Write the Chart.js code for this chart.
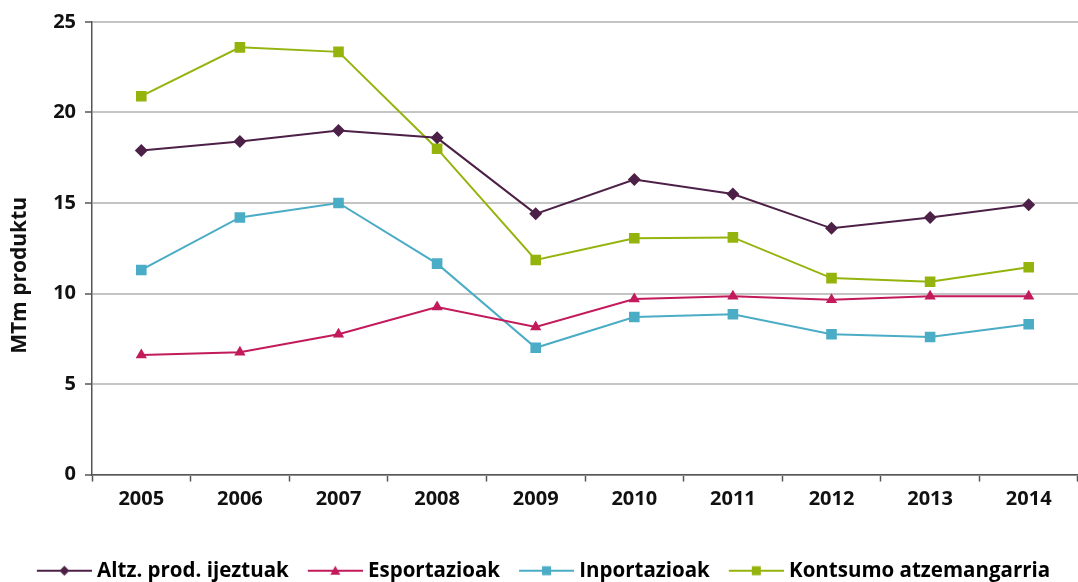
<!DOCTYPE html>
<html>
<head>
<meta charset="utf-8">
<script src="https://cdn.jsdelivr.net/npm/chart.js"></script>
<style>
  html, body { margin: 0; padding: 0; background: #fff; }
  #wrap { width: 1078px; height: 582px; }
</style>
</head>
<body>
<div id="wrap"><canvas id="myLineGraph"></canvas></div>
<script>
var years = ["2005", "2006", "2007", "2008", "2009", "2010", "2011", "2012", "2013", "2014"];
var altzProd = [17.9, 18.4, 19.0, 18.6, 14.4, 16.3, 15.5, 13.6, 14.2, 14.9];
var esportazioak = [6.6, 6.75, 7.75, 9.25, 8.15, 9.7, 9.85, 9.65, 9.85, 9.85];
var inportazioak = [11.3, 14.2, 15.0, 11.65, 7.0, 8.7, 8.85, 7.75, 7.6, 8.3];
var kontsumoa = [20.9, 23.6, 23.35, 18.0, 11.85, 13.05, 13.1, 10.85, 10.65, 11.45];
var yTicks = [0, 5, 10, 15, 20, 25];
var yTitle = "MTm produktu";

var purple = "#4d2147", pink = "#c21a5b", blue = "#4bacc6", green = "#94b40d";

// little legend pictures: a line with the marker in the middle
function legendIcon(color, style) {
  var c = document.createElement("canvas");
  c.width = 69; c.height = 14;
  var g = c.getContext("2d");
  g.strokeStyle = color; g.fillStyle = color; g.lineWidth = 2;
  g.beginPath(); g.moveTo(14, 7); g.lineTo(69, 7); g.stroke();
  var cx = 41.5, cy = 7;
  g.beginPath();
  if (style == "rectRot") {
    g.moveTo(cx, cy - 5); g.lineTo(cx + 5, cy); g.lineTo(cx, cy + 5); g.lineTo(cx - 5, cy);
  } else if (style == "triangle") {
    g.moveTo(cx, cy - 5); g.lineTo(cx + 5, cy + 4); g.lineTo(cx - 5, cy + 4);
  } else {
    g.rect(cx - 4.5, cy - 4.5, 9, 9);
  }
  g.closePath(); g.fill();
  return c;
}

function series(label, data, color, style, radius) {
  return {
    label: label,
    data: data,
    borderColor: color,
    backgroundColor: color,
    borderWidth: 2,
    pointStyle: style,
    pointRadius: radius,
    pointHoverRadius: radius,
    pointBorderWidth: 0,
    fill: false,
    tension: 0,
    icon: legendIcon(color, style)
  };
}

// the axis title sits a bit below the middle in the original
var yTitlePlugin = {
  id: "yTitle",
  afterDraw: function(chart) {
    var ctx = chart.ctx, area = chart.chartArea;
    ctx.save();
    ctx.translate(20, area.top + (area.bottom - area.top) * 0.56);
    ctx.rotate(-Math.PI / 2);
    ctx.font = "bold 21px 'Open Sans', sans-serif";
    ctx.fillStyle = "#111";
    ctx.textAlign = "center";
    ctx.textBaseline = "middle";
    ctx.fillText(yTitle, 0, 0);
    ctx.restore();
  }
};

Chart.defaults.font.family = "'Open Sans', sans-serif";
Chart.defaults.font.weight = "bold";
Chart.defaults.color = "#111";

new Chart("myLineGraph", {
  type: "line",
  plugins: [yTitlePlugin],
  data: {
    labels: years,
    datasets: [
      series("Altz. prod. ijeztuak", altzProd, purple, "rectRot", 6.5),
      series("Esportazioak", esportazioak, pink, "triangle", 6.5),
      series("Inportazioak", inportazioak, blue, "rect", 7.5),
      series("Kontsumo atzemangarria", kontsumoa, green, "rect", 7.5)
    ]
  },
  options: {
    responsive: true,
    maintainAspectRatio: false,
    animation: false,
    layout: { autoPadding: false, padding: { top: 0, right: 0, left: 0, bottom: -9 } },
    plugins: {
      tooltip: { enabled: false },
      legend: {
        display: true,
        position: "bottom",
        labels: {
          usePointStyle: true,
          pointStyleWidth: 59,
          padding: 10,
          font: { size: 20.5, weight: "bold" },
          color: "#111",
          generateLabels: function(chart) {
            return chart.data.datasets.map(function(ds, i) {
              return { text: ds.label, pointStyle: ds.icon, fillStyle: ds.borderColor, strokeStyle: ds.borderColor, lineWidth: 0, datasetIndex: i, hidden: false };
            });
          }
        }
      }
    },
    scales: {
      x: {
        offset: true,
        afterFit: function(s) { s.height = 76; s.paddingLeft = 0; s.paddingRight = 0; },
        grid: { offset: true, drawOnChartArea: false, drawTicks: true, tickLength: 7, tickColor: "#555", tickWidth: 1.5 },
        border: { color: "#555", width: 1.5 },
        ticks: { font: { size: 20, weight: "bold" }, color: "#111", padding: 6, maxRotation: 0 }
      },
      y: {
        min: 0,
        max: 25,
        afterFit: function(s) { s.width = 92; s.paddingTop = 22; s.paddingBottom = 0; },
        afterBuildTicks: function(s) { s.ticks = yTicks.map(function(v) { return { value: v }; }); },
        grid: { color: "#c4c4c4", lineWidth: 2, tickLength: 7, tickColor: "#555", tickWidth: 1.5 },
        border: { color: "#555", width: 1.5 },
        ticks: { font: { size: 20, weight: "bold" }, color: "#111", padding: 9 }
      }
    }
  }
});
</script>
</body>
</html>
